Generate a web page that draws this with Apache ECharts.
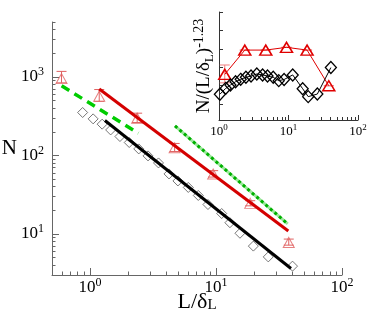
<!DOCTYPE html>
<html>
<head>
<meta charset="utf-8">
<script src="https://cdn.jsdelivr.net/npm/echarts@6/dist/echarts.min.js"></script>
<style>
  * { margin: 0; padding: 0; }
  #main { width: 387px; height: 332px; }
</style>
</head>
<body>
<div id="main"></div>
<script>
  // main plot, red triangles with error bars
  var triX  = [0.595, 1.185, 2.37, 4.7, 9.5, 18.7, 37.8];
  var triY  = [950, 565, 298, 125, 58, 24.5, 7.8];
  var triHi = [1175, 690, 345, 142, 64, 26.5, 8.6];
  var triLo = [840, 490, 262, 112, 53, 22.8, 7.2];

  // main plot, open diamonds
  var diaX = [0.875, 1.06, 1.25, 1.46, 1.73, 2.05, 2.44, 2.89, 3.5, 4.24, 4.99, 6.03, 7.24, 8.64, 11.1, 12.9, 15.5, 19.8, 26.0, 40.5];
  var diaY = [352, 292, 250, 211, 174, 146, 121, 98.6, 80.2, 58.1, 47.3, 39.1, 30.9, 23.7, 18.2, 13.9, 10.2, 7.0, 5.1, 3.89];

  // power-law guide lines (end points)
  var redFitX = [1.185, 37.5],   redFitY = [700, 10.9];
  var blackFitX = [1.315, 39.4], blackFitY = [278, 3.63];
  var greenDashX = [0.596, 2.42], greenDashY = [771, 192];
  var greenDotX = [4.73, 37.1],  greenDotY = [238, 13.4];

  // inset: N/(L/δL)^-1.23
  var insetTriX  = [1.21, 2.35, 4.71, 9.36, 18.5, 38];
  var insetTriY  = [661, 793, 793, 808, 793, 599];
  var insetTriHi = [712, 793, 793, 808, 793, 599];
  var insetTriLo = [615, 793, 793, 808, 793, 599];
  var insetDiaX = [1.03, 1.25, 1.46, 1.73, 2.05, 2.44, 2.89, 3.5, 4.24, 4.99, 6.03, 7.24, 8.64, 11.5, 16, 19.2, 26, 40.7];
  var insetDiaY = [553, 585, 603, 621, 634, 645, 652, 663, 658, 652, 645, 627, 633, 658, 583, 540, 554, 698];

  // tick labels
  var mainXLabels = [1, 10, 100];
  var mainYLabels = [10, 100, 1000];
  var insetXLabels = [1, 10, 100];
  var insetYTicks = [500, 600, 700, 800, 900, 1000];

  var serif = 'Liberation Serif';

  function logTicks(lo, hi) {
    var out = [];
    for (var e = -1; e <= 4; e++) {
      for (var k = 1; k <= 9; k++) {
        var v = +(k * Math.pow(10, e)).toPrecision(6);
        if (v >= lo && v <= hi) out.push(v);
      }
    }
    return out;
  }
  function pairs(xs, ys) {
    return xs.map(function (x, i) { return [x, ys[i]]; });
  }
  function powLabel(v) {
    return '{b|10}{s|' + Math.round(Math.log10(v)) + '}';
  }

  function logAxis(grid, min, max, pos, ticks, len, labels, big) {
    return {
      type: 'log', logBase: 10, gridIndex: grid, position: pos,
      min: min, max: max,
      axisLine: { show: !labels, onZero: false, lineStyle: { color: grid ? '#333' : '#666', width: 1 } },
      axisTick: { show: true, inside: true, length: len, customValues: ticks,
        lineStyle: { color: grid ? '#333' : '#666', width: 1 } },
      axisLabel: labels ? {
        show: true, customValues: labels, formatter: powLabel,
        margin: big ? (pos === 'left' ? 8 : 2) : 3, color: '#000',
        rich: big ? {
          b: { fontFamily: serif, fontSize: 17, lineHeight: 22, color: '#000' },
          s: { fontFamily: serif, fontSize: 12, lineHeight: 12, verticalAlign: 'top', color: '#000' }
        } : {
          b: { fontFamily: serif, fontSize: 13, lineHeight: 17, color: '#000' },
          s: { fontFamily: serif, fontSize: 9, lineHeight: 9, verticalAlign: 'top', color: '#000' }
        }
      } : { show: false },
      splitLine: { show: false }
    };
  }

  function errorBars(xs, lo, hi, color, xi, yi) {
    return {
      type: 'custom', xAxisIndex: xi, yAxisIndex: yi, silent: true,
      data: xs.map(function (x, i) { return [x, lo[i], hi[i]]; }),
      renderItem: function (params, api) {
        var a = api.coord([api.value(0), api.value(1)]);
        var b = api.coord([api.value(0), api.value(2)]);
        var w = 5;
        var st = { stroke: color, lineWidth: 1 };
        return { type: 'group', children: [
          { type: 'line', shape: { x1: a[0], y1: a[1], x2: b[0], y2: b[1] }, style: st },
          { type: 'line', shape: { x1: b[0] - w, y1: b[1], x2: b[0] + w, y2: b[1] }, style: st },
          { type: 'line', shape: { x1: a[0] - w, y1: a[1], x2: a[0] + w, y2: a[1] }, style: st }
        ] };
      }
    };
  }

  var chart = echarts.init(document.getElementById('main'));
  chart.setOption({
    animation: false,
    backgroundColor: '#fff',
    grid: [
      { left: 52, right: 45, top: 22, bottom: 57, containLabel: false, outerBoundsMode: 'none' },
      { left: 219, right: 29, top: 12, bottom: 212, containLabel: false, outerBoundsMode: 'none' }
    ],
    xAxis: [
      Object.assign(logAxis(0, 0.5, 100, 'bottom', logTicks(0.6, 100), 3.5, null), {
        name: '{a|L/δ}{b|L}', nameLocation: 'middle', nameGap: 16,
        nameTextStyle: { rich: {
          a: { fontFamily: serif, fontSize: 22, lineHeight: 22, verticalAlign: 'top', color: '#000' },
          b: { fontFamily: serif, fontSize: 15, lineHeight: 15, verticalAlign: 'bottom', padding: [22, 0, 0, 0], color: '#000' }
        } }
      }),
      logAxis(0, 0.5, 100, 'bottom', mainXLabels, 7, mainXLabels, true),
      logAxis(1, 1, 100, 'bottom', logTicks(1, 100), 3, null),
      logAxis(1, 1, 100, 'bottom', insetXLabels, 5, insetXLabels, false)
    ],
    yAxis: [
      Object.assign(logAxis(0, 3, 5000, 'left', logTicks(3, 5000), 3.5, null), {
        name: 'N', nameLocation: 'middle', nameRotate: 0, nameGap: 35,
        nameTextStyle: { fontFamily: serif, fontSize: 21, color: '#000' }
      }),
      logAxis(0, 3, 5000, 'left', mainYLabels, 7, mainYLabels, true),
      {
        type: 'value', gridIndex: 1, position: 'left', min: 413, max: 1000,
        axisLine: { show: true, onZero: false, lineStyle: { color: '#333' } },
        axisTick: { show: true, inside: true, length: 4, customValues: insetYTicks, lineStyle: { color: '#333' } },
        axisLabel: { show: false },
        splitLine: { show: false },
        name: '{a|N/(L/δ}{b|L}{a|)}{c|-1.23}', nameLocation: 'middle', nameGap: 3,
        nameTextStyle: { rich: {
          a: { fontFamily: serif, fontSize: 19, lineHeight: 24, color: '#000' },
          b: { fontFamily: serif, fontSize: 13, lineHeight: 13, verticalAlign: 'bottom', color: '#000' },
          c: { fontFamily: serif, fontSize: 14, lineHeight: 14, verticalAlign: 'top', color: '#000' }
        } }
      }
    ],
    series: [
      errorBars(triX, triLo, triHi, '#e06060', 0, 0),
      {
        type: 'scatter', xAxisIndex: 0, yAxisIndex: 0,
        data: pairs(triX, triY), symbol: 'triangle', symbolSize: [11, 10],
        itemStyle: { color: 'rgba(0,0,0,0)', borderColor: '#e06060', borderWidth: 1 }
      },
      {
        type: 'scatter', xAxisIndex: 0, yAxisIndex: 0,
        data: pairs(diaX, diaY), symbol: 'diamond', symbolSize: 10,
        itemStyle: { color: 'rgba(0,0,0,0)', borderColor: '#555', borderWidth: 1 }
      },
      {
        type: 'line', xAxisIndex: 0, yAxisIndex: 0, symbol: 'none',
        data: pairs(greenDashX, greenDashY),
        lineStyle: { color: '#00cc00', width: 3.5, type: [9, 6] }
      },
      {
        type: 'line', xAxisIndex: 0, yAxisIndex: 0, symbol: 'none',
        data: pairs(redFitX, redFitY),
        lineStyle: { color: '#d40000', width: 3 }
      },
      {
        type: 'line', xAxisIndex: 0, yAxisIndex: 0, symbol: 'none',
        data: pairs(blackFitX, blackFitY),
        lineStyle: { color: '#000', width: 3 }
      },
      {
        type: 'line', xAxisIndex: 0, yAxisIndex: 0, symbol: 'none',
        data: pairs(greenDotX, greenDotY),
        lineStyle: { color: '#9be89b', width: 3 }
      },
      {
        type: 'line', xAxisIndex: 0, yAxisIndex: 0, symbol: 'none',
        data: pairs(greenDotX, greenDotY),
        lineStyle: { color: '#00b000', width: 3, type: [3, 3] }
      },
      // inset
      errorBars(insetTriX, insetTriLo, insetTriHi, '#f08080', 2, 2),
      {
        type: 'line', xAxisIndex: 2, yAxisIndex: 2,
        data: pairs(insetTriX, insetTriY), symbol: 'triangle', symbolSize: [12, 10],
        lineStyle: { color: '#e00000', width: 1 },
        itemStyle: { color: 'rgba(0,0,0,0)', borderColor: '#e00000', borderWidth: 1.5 }
      },
      {
        type: 'line', xAxisIndex: 2, yAxisIndex: 2,
        data: pairs(insetDiaX, insetDiaY), symbol: 'diamond', symbolSize: [11, 12],
        lineStyle: { color: '#000', width: 1 },
        itemStyle: { color: 'rgba(0,0,0,0)', borderColor: '#000', borderWidth: 1.3 }
      }
    ]
  });
</script>
</body>
</html>
